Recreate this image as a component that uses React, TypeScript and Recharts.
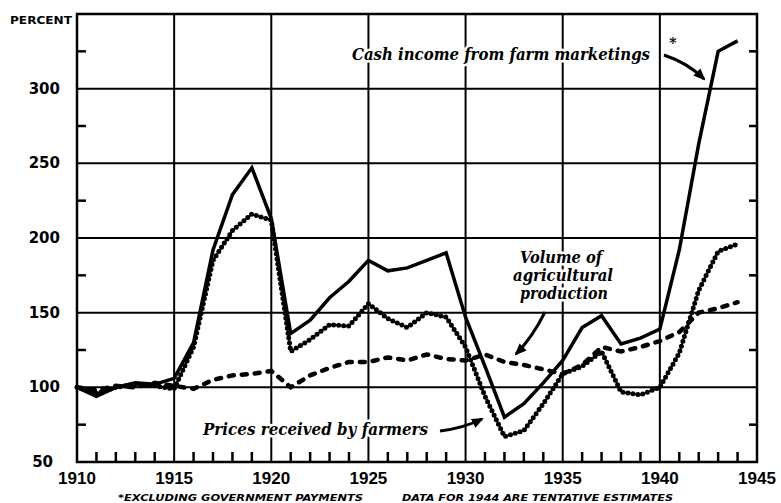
import { LineChart, Line, XAxis, YAxis, CartesianGrid, ReferenceArea, ReferenceLine } from "recharts";

const years = [
  1910, 1911, 1912, 1913, 1914, 1915, 1916, 1917, 1918, 1919, 1920, 1921,
  1922, 1923, 1924, 1925, 1926, 1927, 1928, 1929, 1930, 1931, 1932, 1933,
  1934, 1935, 1936, 1937, 1938, 1939, 1940, 1941, 1942, 1943, 1944,
];

// cash income from farm marketings (excl. government payments)
const cashIncome = [
  100, 94, 100, 103, 102, 106, 130, 192, 229, 247, 213, 136, 145, 160, 171,
  185, 178, 180, 185, 190, 147, 114, 80, 89, 103, 118, 140, 148, 129, 133,
  139, 192, 263, 325, 332,
];

const pricesReceived = [
  100, 96, 100, 102, 101, 99, 127, 185, 205, 216, 212, 124, 132, 142, 141,
  156, 146, 140, 150, 147, 127, 94, 67, 71, 89, 109, 114, 124, 97, 95, 100,
  123, 165, 191, 196,
];

const productionVolume = [
  100, 98, 101, 100, 103, 101, 99, 105, 108, 109, 111, 100, 108, 113, 117,
  117, 120, 118, 122, 119, 118, 122, 117, 115, 112, 109, 115, 127, 124, 127,
  131, 137, 150, 153, 157,
];

const yearLabels = [1910, 1915, 1920, 1925, 1930, 1935, 1940, 1945];
const minorYears = [
  1911, 1912, 1913, 1914, 1916, 1917, 1918, 1919, 1921, 1922, 1923, 1924,
  1926, 1927, 1928, 1929, 1931, 1932, 1933, 1934, 1936, 1937, 1938, 1939,
  1941, 1942, 1943, 1944,
];
const percentTicks = [50, 100, 150, 200, 250, 300, 350];
const minorPercents = [75, 125, 175, 225, 275, 325];
const gridYears = [1915, 1920, 1925, 1930, 1935, 1940];
const gridPercents = [100, 150, 200, 250, 300];

const data = years.map((year, i) => ({
  year,
  cash: cashIncome[i],
  prices: pricesReceived[i],
  volume: productionVolume[i],
}));

const W = 781;
const H = 503;
const margin = { top: 14, right: 24, left: 27, bottom: 11 };

// frame tick lengths in data units (about 10px up, 9px / 8px sideways)
const xTickLen = 6.7;
const yTickLenL = 0.46;
const yTickLenR = 0.41;

const tickFont = "'Liberation Sans', Arial, sans-serif";
const noteFont = "'DejaVu Serif', serif";

const YearTick = ({ x, y, payload }: any) => (
  <text x={x} y={y + 22} textAnchor="middle" fontFamily={tickFont} fontWeight={700} fontSize={17} fill="#000">
    {payload.value}
  </text>
);

const PercentTick = ({ x, y, payload }: any) => {
  const v = payload.value;
  if (v === 350) return <g />;
  const dx = v === 50 ? -24 : -17;
  return (
    <text x={x + dx} y={y + 5} textAnchor="end" fontFamily="'DejaVu Sans', sans-serif" fontWeight={700} fontSize={15} fill="#000">
      {v}
    </text>
  );
};

const halo = { stroke: "#fff", strokeWidth: 5, paintOrder: "stroke" as const };

function Notes() {
  return (
    <svg width={W} height={H} style={{ position: "absolute", left: 0, top: 0, pointerEvents: "none" }}>
      <defs>
        <marker id="head" markerUnits="userSpaceOnUse" markerWidth={12} markerHeight={10} refX={10} refY={5} orient="auto">
          <path d="M0,0 L12,5 L0,10 Z" fill="#000" />
        </marker>
      </defs>
      <text x={10} y={24} fontFamily="'DejaVu Sans', sans-serif" fontWeight={700} fontSize={11} textLength={62} lengthAdjust="spacingAndGlyphs" {...halo}>
        PERCENT
      </text>

      <text x={352} y={60} fontFamily={noteFont} fontStyle="italic" fontWeight={700} fontSize={16} textLength={298} lengthAdjust="spacingAndGlyphs" {...halo}>
        Cash income from farm marketings
      </text>
      <text x={673} y={48} fontFamily={noteFont} fontWeight={700} fontSize={14} textAnchor="middle">*</text>
      <path d="M664,55 Q688,63 704,79" stroke="#000" strokeWidth={3} fill="none" markerEnd="url(#head)" />

      <g fontFamily={noteFont} fontStyle="italic" fontWeight={700} fontSize={16} {...halo}>
        <text x={520} y={263} textLength={82} lengthAdjust="spacingAndGlyphs">Volume of</text>
        <text x={513} y={281} textLength={100} lengthAdjust="spacingAndGlyphs">agricultural</text>
        <text x={520} y={299} textLength={88} lengthAdjust="spacingAndGlyphs">production</text>
      </g>
      <path d="M545,312 Q532,338 516,354" stroke="#000" strokeWidth={3} fill="none" markerEnd="url(#head)" />

      <text x={203} y={435} fontFamily={noteFont} fontStyle="italic" fontWeight={700} fontSize={16} textLength={225} lengthAdjust="spacingAndGlyphs" {...halo}>
        Prices received by farmers
      </text>
      <path d="M440,431 Q464,428 482,419" stroke="#000" strokeWidth={3} fill="none" markerEnd="url(#head)" />

      <g fontFamily="'DejaVu Sans', sans-serif" fontStyle="italic" fontWeight={700} fontSize={9}>
        <text x={118} y={501} textLength={245} lengthAdjust="spacingAndGlyphs">*EXCLUDING GOVERNMENT PAYMENTS</text>
        <text x={402} y={501} textLength={271} lengthAdjust="spacingAndGlyphs">DATA FOR 1944 ARE TENTATIVE ESTIMATES</text>
      </g>
    </svg>
  );
}

export default function App() {
  return (
    <div style={{ position: "absolute", left: 0, top: 0, width: W, height: H, background: "#fff" }}>
      <LineChart width={W} height={H} data={data} margin={margin}>
        <CartesianGrid
          horizontalValues={gridPercents}
          verticalValues={gridYears}
          stroke="#000"
          strokeWidth={2}
        />
        <XAxis
          dataKey="year"
          type="number"
          domain={[1910, 1945]}
          ticks={yearLabels}
          interval={0}
          tickLine={false}
          axisLine={false}
          tickSize={0}
          tickMargin={0}
          height={30}
          tick={<YearTick />}
        />
        <YAxis
          type="number"
          domain={[50, 350]}
          ticks={percentTicks}
          interval={0}
          tickLine={false}
          axisLine={false}
          tickSize={0}
          tickMargin={0}
          width={50}
          tick={<PercentTick />}
        />
        {minorYears.map((yr) => (
          <ReferenceLine
            key={`mx${yr}`}
            segment={[{ x: yr, y: 50 }, { x: yr, y: 50 + xTickLen }]}
            stroke="#000"
            strokeWidth={2.5}
          />
        ))}
        {minorPercents.map((p) => (
          <ReferenceLine
            key={`ml${p}`}
            segment={[{ x: 1910, y: p }, { x: 1910 + yTickLenL, y: p }]}
            stroke="#000"
            strokeWidth={2.5}
          />
        ))}
        {minorPercents.map((p) => (
          <ReferenceLine
            key={`mr${p}`}
            segment={[{ x: 1945 - yTickLenR, y: p }, { x: 1945, y: p }]}
            stroke="#000"
            strokeWidth={2.5}
          />
        ))}
        <ReferenceArea x1={1910} x2={1945} y1={50} y2={350} fill="none" stroke="#000" strokeWidth={2.5} />
        <Line type="linear" dataKey="volume" stroke="#000" strokeWidth={4.5} strokeDasharray="5 8" strokeLinecap="round" dot={false} isAnimationActive={false} />
        <Line type="linear" dataKey="prices" stroke="#000" strokeWidth={1.5} dot={false} isAnimationActive={false} />
        <Line type="linear" dataKey="prices" stroke="#000" strokeWidth={5} strokeDasharray="0 5" strokeLinecap="round" dot={false} isAnimationActive={false} />
        <Line type="linear" dataKey="cash" stroke="#000" strokeWidth={3.5} dot={false} isAnimationActive={false} />
      </LineChart>
      <Notes />
    </div>
  );
}
